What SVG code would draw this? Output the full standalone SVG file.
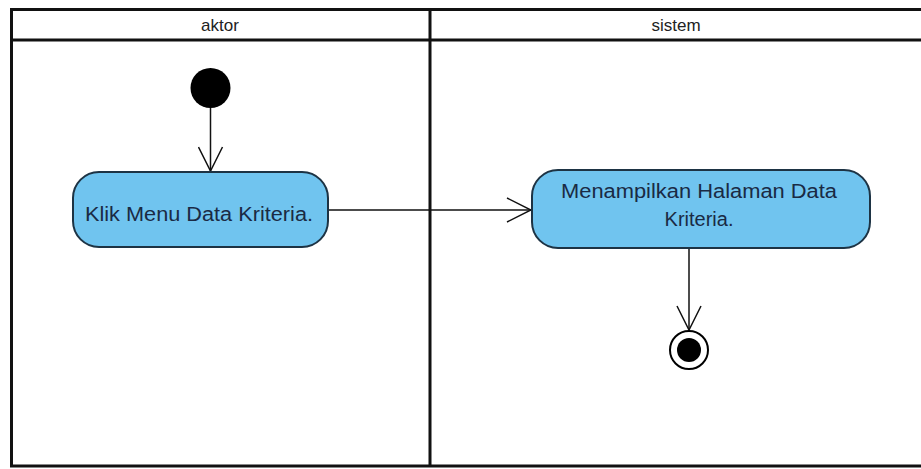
<svg xmlns="http://www.w3.org/2000/svg" width="921" height="469" viewBox="0 0 921 469">
<defs>
<style>
.lane{fill:none;stroke:#111;stroke-width:3}
.act{fill:#70C4EF;stroke:#1d3344;stroke-width:2}
.t{font-family:"Liberation Sans",Arial,sans-serif;font-size:20px;fill:#1a2a44;text-anchor:middle}
.h{font-family:"Liberation Sans",Arial,sans-serif;font-size:17px;fill:#222;text-anchor:middle}
.c{fill:none;stroke:#111;stroke-width:1.5}
</style>
<marker id="open" viewBox="0 0 26 26" refX="25" refY="13" markerWidth="26" markerHeight="26" markerUnits="userSpaceOnUse" orient="auto">
<path d="M1,1 L25,13 L1,25" fill="none" stroke="#111" stroke-width="1.5"/>
</marker>
</defs>
<rect width="921" height="469" fill="#fff"/>
<g id="lanes">
<path class="lane" d="M921,9.5 H11.5 V466 H921"/>
<line class="lane" x1="11.5" y1="40" x2="921" y2="40"/>
<line class="lane" x1="430" y1="9.5" x2="430" y2="466"/>
<text class="h" x="220" y="31">aktor</text>
<text class="h" x="676" y="31">sistem</text>
</g>
<g id="connectors">
<line class="c" x1="210.5" y1="108" x2="210.5" y2="171" marker-end="url(#open)"/>
<line class="c" x1="329" y1="210" x2="531" y2="210" marker-end="url(#open)"/>
<line class="c" x1="689" y1="249" x2="689" y2="330" marker-end="url(#open)"/>
</g>
<g id="start">
<circle cx="210.5" cy="88" r="20" fill="#000"/>
</g>
<g id="act1">
<rect class="act" x="73" y="172" width="255" height="75" rx="26" ry="26"/>
<text class="t" x="199" y="221" textLength="228" lengthAdjust="spacingAndGlyphs">Klik Menu Data Kriteria.</text>
</g>
<g id="act2">
<rect class="act" x="532" y="170" width="338" height="78" rx="26" ry="26"/>
<text class="t" x="699" y="198" textLength="276" lengthAdjust="spacingAndGlyphs">Menampilkan Halaman Data</text>
<text class="t" x="699" y="226">Kriteria.</text>
</g>
<g id="end">
<circle cx="689" cy="350" r="19" fill="#fff" stroke="#000" stroke-width="2"/>
<circle cx="689" cy="350" r="12" fill="#000"/>
</g>
</svg>
